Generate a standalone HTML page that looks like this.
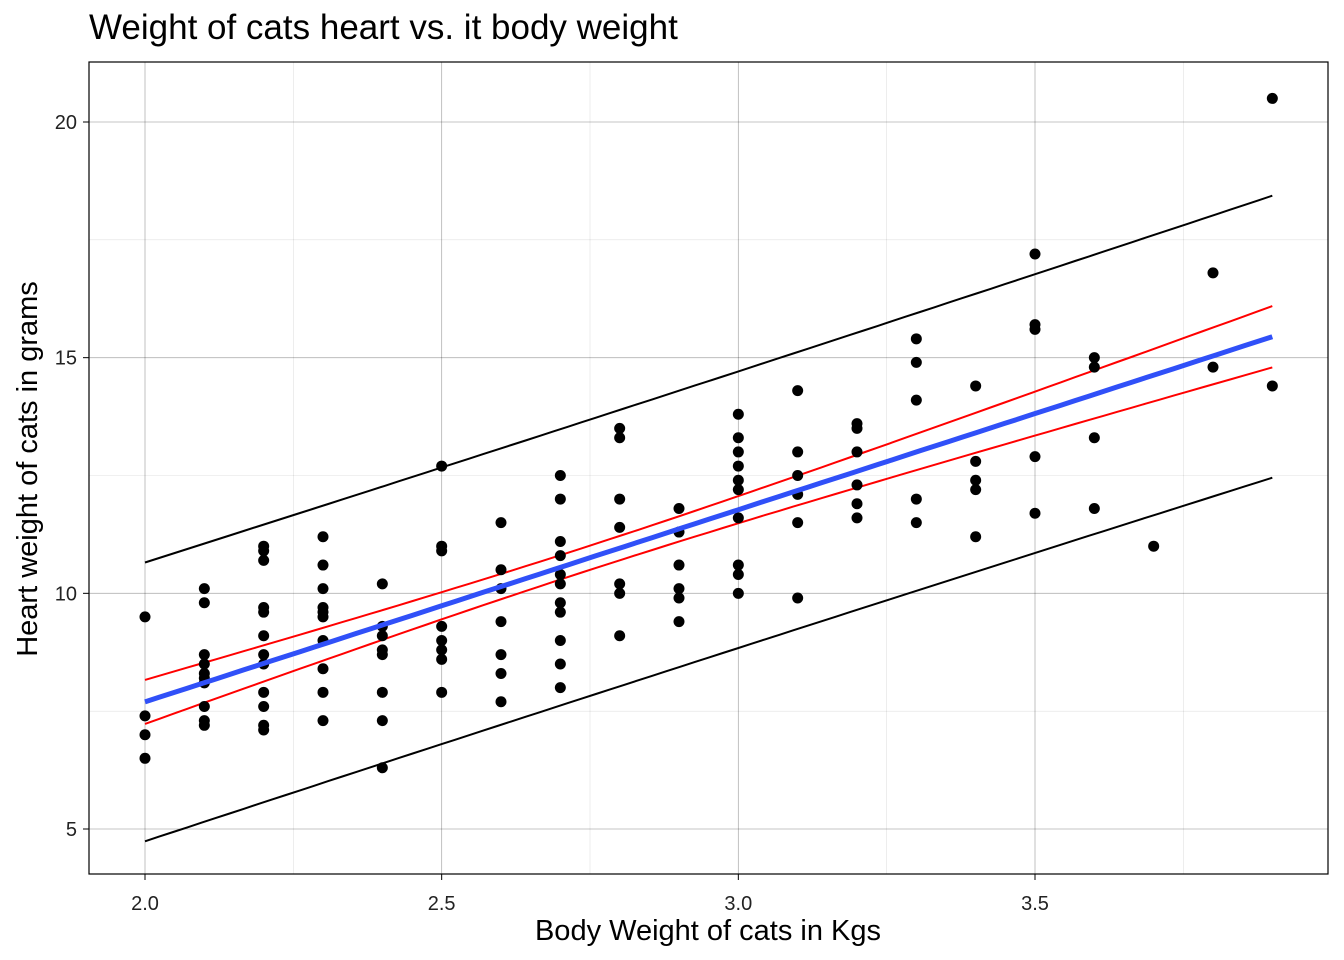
<!DOCTYPE html>
<html><head><meta charset="utf-8"><style>
body{margin:0;background:#fff;}
svg{display:block;font-family:"Liberation Sans",Arial,sans-serif;}
</style></head><body>
<svg id="chart" width="1344" height="960">
<text x="89" y="39" font-size="35" fill="#000">Weight of cats heart vs. it body weight</text>
<text x="708" y="940" font-size="29" text-anchor="middle" fill="#000">Body Weight of cats in Kgs</text>
<text transform="translate(37,469) rotate(-90)" font-size="29" text-anchor="middle" fill="#000">Heart weight of cats in grams</text>
<g id="grid"></g><g id="marks"></g><g id="axes"></g>
<rect x="89" y="62" width="1239" height="812" fill="none" stroke="#000" stroke-width="1.2"/>
</svg>
<script>
const bwt = [2.0,2.0,2.0,2.0,
2.1,2.1,2.1,2.1,2.1,2.1,2.1,2.1,2.1,2.1,
2.2,2.2,2.2,2.2,2.2,2.2,2.2,2.2,2.2,2.2,2.2,2.2,
2.3,2.3,2.3,2.3,2.3,2.3,2.3,2.3,2.3,2.3,
2.4,2.4,2.4,2.4,2.4,2.4,2.4,2.4,
2.5,2.5,2.5,2.5,2.5,2.5,2.5,2.5,
2.6,2.6,2.6,2.6,2.6,2.6,2.6,
2.7,2.7,2.7,2.7,2.7,2.7,2.7,2.7,2.7,2.7,2.7,
2.8,2.8,2.8,2.8,2.8,2.8,2.8,
2.9,2.9,2.9,2.9,2.9,2.9,
3.0,3.0,3.0,3.0,3.0,3.0,3.0,3.0,3.0,3.0,
3.1,3.1,3.1,3.1,3.1,3.1,
3.2,3.2,3.2,3.2,3.2,3.2,
3.3,3.3,3.3,3.3,3.3,
3.4,3.4,3.4,3.4,3.4,
3.5,3.5,3.5,3.5,3.5,
3.6,3.6,3.6,3.6,
3.7,
3.8,3.8,
3.9,3.9];
const hwt = [9.5,7.4,7.0,6.5,
10.1,9.8,8.7,8.5,8.3,8.2,8.1,7.6,7.3,7.2,
11.0,10.9,10.7,9.7,9.6,9.1,8.7,8.5,7.9,7.6,7.2,7.1,
11.2,10.6,10.1,9.7,9.6,9.5,9.0,8.4,7.9,7.3,
10.2,9.3,9.1,8.8,8.7,7.9,7.3,6.3,
12.7,11.0,10.9,9.3,9.0,8.8,8.6,7.9,
11.5,10.5,10.1,9.4,8.7,8.3,7.7,
12.5,12.0,11.1,10.8,10.4,10.2,9.8,9.6,9.0,8.5,8.0,
13.5,13.3,12.0,11.4,10.2,10.0,9.1,
11.8,11.3,10.6,10.1,9.9,9.4,
13.8,13.3,13.0,12.7,12.4,12.2,11.6,10.6,10.4,10.0,
14.3,13.0,12.5,12.1,11.5,9.9,
13.6,13.5,13.0,12.3,11.9,11.6,
15.4,14.9,14.1,12.0,11.5,
14.4,12.8,12.4,12.2,11.2,
17.2,15.7,15.6,12.9,11.7,
15.0,14.8,13.3,11.8,
11.0,
16.8,14.8,
20.5,14.4];
const xTicks = [2.0,2.5,3.0,3.5];
const xTickLabels = ["2.0","2.5","3.0","3.5"];
const yTicks = [5,10,15,20];
const yTickLabels = ["5","10","15","20"];
const xMinor = [2.25,2.75,3.25,3.75];
const yMinor = [7.5,12.5,17.5];

const sx = v => 145 + (v-2.0)*(1035-145)/1.5;
const sy = v => 829 - (v-5)*(829-122)/15;
const NS="http://www.w3.org/2000/svg";
function mk(parent,tag,attrs){const e=document.createElementNS(NS,tag);for(const k in attrs)e.setAttribute(k,attrs[k]);document.getElementById(parent).appendChild(e);return e;}

xMinor.forEach(v=>{const e=mk('grid','line',{x1:sx(v),x2:sx(v),y1:62,y2:874,stroke:'#000','stroke-opacity':0.12,'stroke-width':0.6});

});
yMinor.forEach(v=>{const e=mk('grid','line',{x1:89,x2:1328,y1:sy(v),y2:sy(v),stroke:'#000','stroke-opacity':0.12,'stroke-width':0.6});

});
xTicks.forEach((v,i)=>{const g=mk('grid','line',{x1:sx(v),x2:sx(v),y1:62,y2:874,stroke:'#000','stroke-opacity':0.3,'stroke-width':0.8});


const t=mk('axes','line',{x1:sx(v),x2:sx(v),y1:874,y2:880,stroke:'#000','stroke-width':1});


const l=mk('axes','text',{x:sx(v),y:910,'font-size':20,'text-anchor':'middle',fill:'#222'});l.textContent=xTickLabels[i];

});
yTicks.forEach((v,i)=>{const g=mk('grid','line',{x1:89,x2:1328,y1:sy(v),y2:sy(v),stroke:'#000','stroke-opacity':0.3,'stroke-width':0.8});


const t=mk('axes','line',{x1:83,x2:89,y1:sy(v),y2:sy(v),stroke:'#000','stroke-width':1});


const l=mk('axes','text',{x:77,y:sy(v)+7,'font-size':20,'text-anchor':'end',fill:'#222'});l.textContent=yTickLabels[i];

});

const n=bwt.length;
const mx=bwt.reduce((a,b)=>a+b,0)/n, my=hwt.reduce((a,b)=>a+b,0)/n;
let sxx=0,sxy=0;for(let i=0;i<n;i++){sxx+=(bwt[i]-mx)**2;sxy+=(bwt[i]-mx)*(hwt[i]-my);}
const b1=sxy/sxx,b0=my-b1*mx;
let sse=0;for(let i=0;i<n;i++)sse+=(hwt[i]-b0-b1*bwt[i])**2;
const s=Math.sqrt(sse/(n-2)),tq=1.977;
const xmin=Math.min(...bwt),xmax=Math.max(...bwt);
function band(fn){let p=[];for(let k=0;k<=80;k++){const x=xmin+(xmax-xmin)*k/80;p.push(sx(x).toFixed(1)+','+sy(fn(x)).toFixed(1));}return p.join(' ');}
const fit=x=>b0+b1*x;
const ci=x=>tq*s*Math.sqrt(1/n+(x-mx)**2/sxx);
const pi=x=>tq*s*Math.sqrt(1+1/n+(x-mx)**2/sxx);
[['prediction-upper',x=>fit(x)+pi(x),'#000',2],['prediction-lower',x=>fit(x)-pi(x),'#000',2],
 ['confidence-upper',x=>fit(x)+ci(x),'#ff0000',2],['confidence-lower',x=>fit(x)-ci(x),'#ff0000',2]].forEach(d=>{
 const e=mk('marks','polyline',{points:band(d[1]),fill:'none',stroke:d[2],'stroke-width':d[3]});
 
 });
for(let i=0;i<n;i++){const c=mk('marks','circle',{cx:sx(bwt[i]),cy:sy(hwt[i]),r:5.5,fill:'#000'});

}
const fl=mk('marks','polyline',{points:band(fit),fill:'none',stroke:'#3050f8','stroke-width':5});


</script>
</body></html>
